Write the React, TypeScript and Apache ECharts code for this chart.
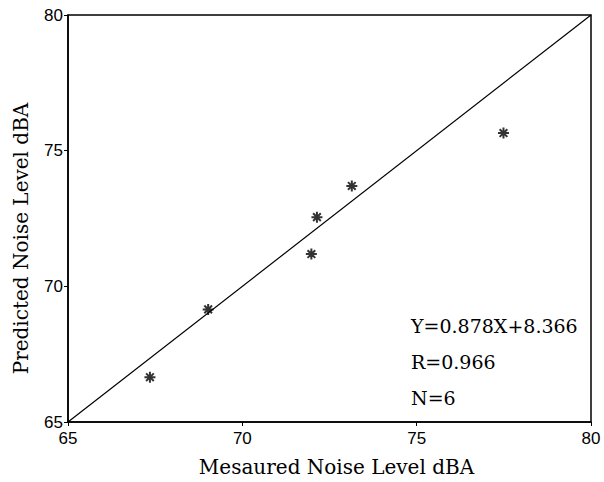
import React, { useEffect, useRef } from "react";
import * as echarts from "echarts";

const measured = [67.35, 69.02, 71.98, 72.14, 73.14, 77.49];
const predicted = [66.65, 69.15, 71.19, 72.55, 73.7, 75.65];
const refLineX = [65, 80];
const refLineY = [65, 80];
const annotations = ["Y=0.878X+8.366", "R=0.966", "N=6"];
const xTitle = "Mesaured Noise Level dBA";
const yTitle = "Predicted Noise Level dBA";

const asterisk =
  "path://M5,0 L5,10 M0,5 L10,5 M1.5,1.5 L8.5,8.5 M1.5,8.5 L8.5,1.5";

export default function App() {
  const ref = useRef<HTMLDivElement>(null);
  useEffect(() => {
    if (!ref.current) return;
    const chart = echarts.init(ref.current, undefined, { renderer: "svg" });
    const serif = "DejaVu Serif";
    const sans = "Liberation Sans";
    chart.setOption({
      animation: false,
      backgroundColor: "#fff",
      grid: {
        left: 68,
        top: 15,
        right: 13,
        bottom: 58,
        show: true,
        borderColor: "#000",
        borderWidth: 1.5,
        containLabel: false,
      },
      xAxis: {
        type: "value",
        min: 65,
        max: 80,
        interval: 5,
        name: xTitle,
        nameLocation: "middle",
        nameGap: 35,
        nameTextStyle: {
          fontFamily: serif,
          fontSize: 20,
          color: "#000",
          padding: [0, 0, 0, 14],
        },
        axisLine: { show: true, lineStyle: { color: "#000", width: 1.5 } },
        axisTick: { show: true, length: 4, lineStyle: { color: "#000" } },
        axisLabel: { fontFamily: sans, fontSize: 17, color: "#000", margin: 8 },
        splitLine: { show: false },
      },
      yAxis: {
        type: "value",
        min: 65,
        max: 80,
        interval: 5,
        name: yTitle,
        nameLocation: "middle",
        nameGap: 37,
        nameTextStyle: {
          fontFamily: serif,
          fontSize: 20,
          color: "#000",
          padding: [0, 40, 0, 0],
        },
        axisLine: { show: true, lineStyle: { color: "#000", width: 1.5 } },
        axisTick: { show: true, length: 4, lineStyle: { color: "#000" } },
        axisLabel: { fontFamily: sans, fontSize: 17, color: "#000", margin: 5 },
        splitLine: { show: false },
      },
      series: [
        {
          type: "line",
          data: refLineX.map((x, i) => [x, refLineY[i]]),
          symbol: "none",
          lineStyle: { color: "#000", width: 1.2 },
          silent: true,
        },
        {
          type: "scatter",
          data: measured.map((x, i) => [x, predicted[i]]),
          symbol: asterisk,
          symbolSize: 11,
          itemStyle: { color: "#000", borderColor: "#000", borderWidth: 2 },
        },
      ],
      graphic: annotations.map((t, i) => ({
        type: "text",
        left: 411,
        top: 316 + i * 36,
        style: {
          text: t,
          fontFamily: serif,
          fontSize: 19,
          fill: "#000",
        },
      })),
    });
    return () => chart.dispose();
  }, []);
  return (
    <div
      ref={ref}
      style={{ position: "absolute", left: 0, top: 0, width: 604, height: 482 }}
    />
  );
}
